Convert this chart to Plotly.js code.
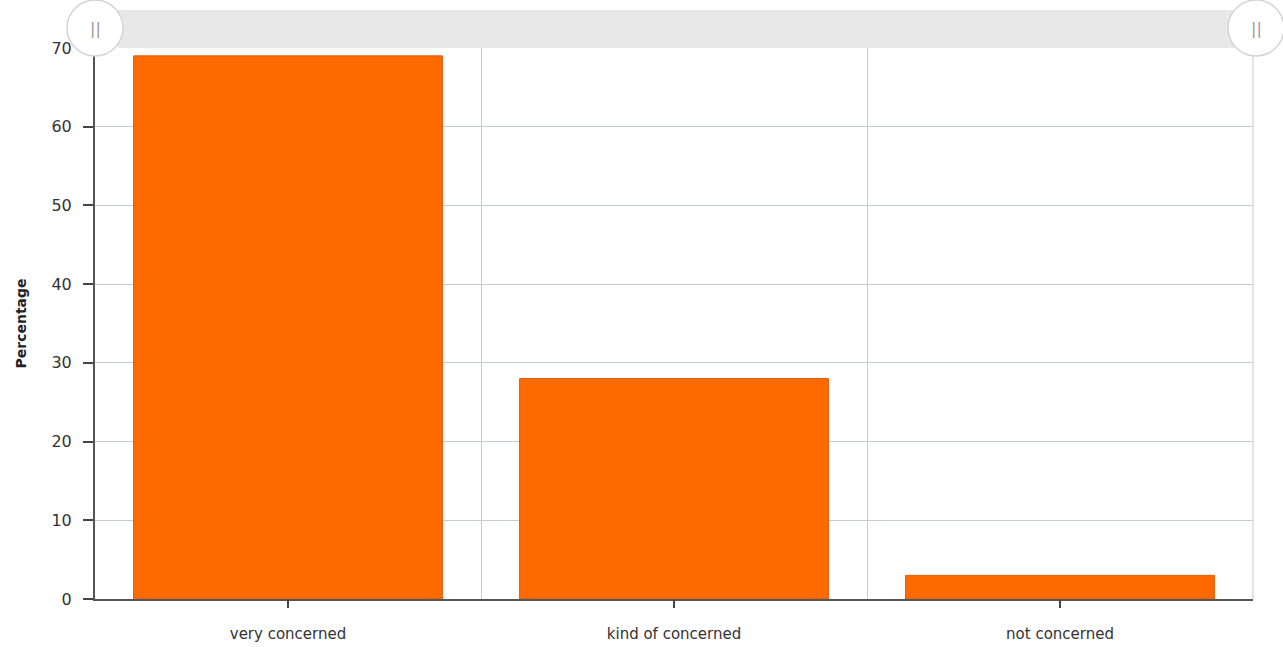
<!DOCTYPE html>
<html>
<head>
<meta charset="utf-8">
<script src="https://cdn.plot.ly/plotly-3.0.1.min.js"></script>
<style>html,body{margin:0;padding:0;background:#fff;}#chart{width:1283px;height:647px;}</style>
</head>
<body>
<div id="chart"></div>
<script>
const categories = ["very concerned", "kind of concerned", "not concerned"];
const percentages = [69, 28, 3];
const yTicks = [0, 10, 20, 30, 40, 50, 60, 70];

const W = 1158, H = 551;
function px(dx) { return dx / W; }
function py(dy) { return dy / H; }

const trace = {
  type: "bar",
  x: categories,
  y: percentages,
  marker: { color: "#ff6a00", line: { color: "#e05a00", width: 1 } },
  hoverinfo: "x+y"
};
const tickTrace = {
  type: "bar",
  x: categories,
  y: percentages.map(() => 0),
  xaxis: "x2",
  showlegend: false,
  hoverinfo: "skip"
};

const layout = {
  width: 1283, height: 647,
  margin: { l: 95, r: 30, t: 48, b: 48 },
  paper_bgcolor: "#ffffff",
  plot_bgcolor: "#ffffff",
  showlegend: false,
  bargap: 0.2,
  font: { family: "DejaVu Sans, Verdana, sans-serif", color: "#333" },
  xaxis: {
    type: "category",
    tickson: "boundaries",
    showgrid: true,
    gridcolor: "#c4cccc",
    gridwidth: 1,
    ticks: "",
    showline: true,
    linecolor: "#555",
    linewidth: 2,
    tickfont: { size: 15, color: "#333" },
    ticklabelstandoff: 20,
    range: [-0.5, 2.5]
  },
  xaxis2: {
    type: "category",
    overlaying: "x",
    matches: "x",
    side: "bottom",
    showgrid: false,
    showticklabels: false,
    ticks: "outside",
    ticklen: 8,
    tickwidth: 2,
    tickcolor: "#444",
    showline: false
  },
  yaxis: {
    range: [0, 70],
    tickvals: yTicks,
    showgrid: true,
    gridcolor: "#c4cccc",
    gridwidth: 1,
    zeroline: false,
    showline: true,
    linecolor: "#555",
    linewidth: 2,
    ticks: "outside",
    ticklen: 10,
    tickwidth: 2,
    tickcolor: "#444",
    tickfont: { size: 16, color: "#333" },
    ticklabelstandoff: 8,
    title: { text: "<b>Percentage</b>", font: { size: 14, color: "#222" }, standoff: 22 }
  },
  shapes: [
    { type: "line", xref: "paper", yref: "paper", x0: 1, x1: 1, y0: 0, y1: 1, line: { color: "#c4cccc", width: 1 } },
    { type: "rect", xref: "paper", yref: "paper", x0: px(23), x1: px(1140), y0: 1, y1: 1 + py(38),
      fillcolor: "#e8e8e8", line: { width: 0 }, layer: "above" },
    { type: "circle", xref: "paper", yref: "paper", x0: px(-28), x1: px(28), y0: 1 - py(8), y1: 1 + py(48),
      fillcolor: "#ffffff", line: { color: "#d4d4d4", width: 1.5 }, layer: "above" },
    { type: "circle", xref: "paper", yref: "paper", x0: px(1133), x1: px(1189), y0: 1 - py(8), y1: 1 + py(48),
      fillcolor: "#ffffff", line: { color: "#d4d4d4", width: 1.5 }, layer: "above" }
  ],
  annotations: [
    { xref: "paper", yref: "paper", x: px(0), y: 1 + py(20), text: "||", showarrow: false,
      font: { size: 16, color: "#999", family: "DejaVu Sans" }, xanchor: "center", yanchor: "middle" },
    { xref: "paper", yref: "paper", x: px(1161), y: 1 + py(20), text: "||", showarrow: false,
      font: { size: 16, color: "#999", family: "DejaVu Sans" }, xanchor: "center", yanchor: "middle" }
  ]
};

Plotly.newPlot("chart", [trace, tickTrace], layout, { displayModeBar: false, staticPlot: true });
</script>
</body>
</html>
